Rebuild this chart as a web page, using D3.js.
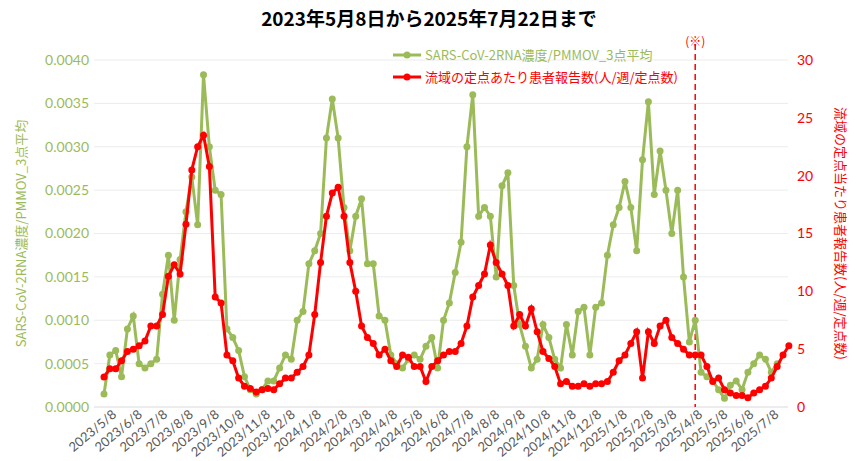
<!DOCTYPE html>
<html><head><meta charset="utf-8">
<script src="https://cdn.jsdelivr.net/npm/d3@7"></script>
<style>body{margin:0;background:#fff;font-family:"Noto Sans CJK JP","Noto Sans",sans-serif}</style>
</head><body><div id="chart"></div>
<script>
// weekly series starting 2023-05-08
const startDate = new Date(2023, 4, 8);
const rnaValues = [0.15,0.6,0.65,0.35,0.9,1.05,0.5,0.45,0.5,0.55,1.3,1.75,1.0,1.7,2.25,2.65,2.1,3.83,3.0,2.5,
  2.45,0.9,0.8,0.65,0.35,0.2,0.15,0.2,0.3,0.3,0.45,0.6,0.55,1.0,1.1,1.65,1.8,2.0,3.1,3.55,
  3.1,2.3,1.8,2.2,2.4,1.65,1.65,1.05,1.0,0.6,0.5,0.45,0.55,0.6,0.55,0.7,0.8,0.45,1.0,1.2,
  1.55,1.9,3.0,3.6,2.2,2.3,2.2,1.5,2.55,2.7,1.4,0.95,0.7,0.45,0.55,0.95,0.8,0.55,0.45,0.95,
  0.6,1.1,1.15,0.6,1.15,1.2,1.75,2.1,2.3,2.6,2.3,1.8,2.85,3.52,2.45,2.95,2.5,2.0,2.5,1.5,
  0.75,1.0,0.4,0.35,0.3,0.2,0.1,0.25,0.3,0.2,0.4,0.5,0.6,0.55,0.4,0.5].map(v => v / 1000);
const reportValues = [2.6,3.3,3.3,4,4.8,5,5.3,5.7,7,7,8,11.3,12.3,11.5,15.8,20.5,22.5,23.5,20.8,9.5,
  9,4.5,4,2.5,1.8,1.6,1.3,1.5,1.6,1.5,2,2.5,2.5,3,3.5,4.5,8,12.5,16.5,18.5,
  19,16.5,12.5,10,7,6,5.5,4.5,5,4,3.5,4.5,4.3,3.5,3.5,2.2,3.5,4,4.5,4.8,
  4.8,5.5,7,9.5,10.5,11.5,14,12.5,11.5,10.5,7,8,7,8.5,6.5,4.8,4.2,3.5,2,2.2,
  1.8,1.8,2,1.8,2,2,2.2,3,4,4.5,5.5,6.5,2.5,6.5,5.5,7,7.5,6,5.5,5,
  4.5,4.5,4.5,3.5,2.2,2.5,1.5,1.2,1,1,0.8,1.2,1.5,1.8,2.5,3.5,4.5,5.3];
const tickDates = d3.timeMonth.range(new Date(2023, 4, 1), new Date(2025, 6, 9)).map(d => new Date(d.getFullYear(), d.getMonth(), 8));
const leftTicks = [0,0.0005,0.001,0.0015,0.002,0.0025,0.003,0.0035,0.004];
const rightTicks = [0,5,10,15,20,25,30];
const dashedDate = new Date(2025, 3, 14);

const W = 858, H = 461;
const m = {l: 104, r: 80, t: 60, b: 54};
const green = "#9BBB59", red = "#FF0000";
const svg = d3.select("#chart").append("svg").attr("width", W).attr("height", H);
const x = d3.scaleTime().domain([startDate, new Date(2025, 6, 22)]).range([m.l, W - m.r]);
const yL = d3.scaleLinear().domain([0, 0.004]).range([H - m.b, m.t]);
const yR = d3.scaleLinear().domain([0, 30]).range([H - m.b, m.t]);
const rna = rnaValues.map((v, i) => ({d: d3.timeWeek.offset(startDate, i), v}));
const rep = reportValues.map((v, i) => ({d: d3.timeWeek.offset(startDate, i), v}));

svg.append("text").attr("x", W / 2).attr("y", 26).attr("text-anchor", "middle")
  .attr("font-size", 19).attr("font-weight", "bold").text("2023年5月8日から2025年7月22日まで");

// grid
svg.append("g").selectAll("line").data(leftTicks).join("line")
  .attr("x1", m.l - 10).attr("x2", W - m.r + 10).attr("y1", d => yL(d)).attr("y2", d => yL(d))
  .attr("stroke", d => d === 0 ? "#d9d9d9" : "#ececec");

// axes
const gl = svg.append("g").attr("transform", `translate(${m.l - 12},0)`)
  .call(d3.axisLeft(yL).tickValues(leftTicks).tickFormat(d3.format(".4f")).tickSize(0));
gl.select(".domain").remove();
gl.selectAll("text").attr("fill", green).attr("font-size", 14).attr("font-family", "Lato, sans-serif");
const gr = svg.append("g").attr("transform", `translate(${W - m.r + 16},0)`)
  .call(d3.axisRight(yR).tickValues(rightTicks).tickSize(0));
gr.select(".domain").remove();
gr.selectAll("text").attr("fill", red).attr("font-size", 14).attr("font-family", "Lato, sans-serif");
const gx = svg.append("g").attr("transform", `translate(0,${H - m.b})`)
  .call(d3.axisBottom(x).tickValues(tickDates).tickFormat(d => `${d.getFullYear()}/${d.getMonth() + 1}/8`).tickSize(0));
gx.select(".domain").remove();
gx.selectAll("text").attr("fill", "#595959").attr("font-size", 13).attr("font-family", "Lato, sans-serif")
  .attr("text-anchor", "end").attr("dx", 4).attr("dy", 12).attr("transform", "rotate(-40)");

svg.append("text").attr("transform", `translate(26,${(m.t + H - m.b) / 2}) rotate(-90)`)
  .attr("text-anchor", "middle").attr("fill", green).attr("font-size", 13).text("SARS-CoV-2RNA濃度/PMMOV_3点平均");
svg.append("text").attr("transform", `translate(${W - 22},${(m.t + H - m.b) / 2}) rotate(90)`)
  .attr("text-anchor", "middle").attr("fill", red).attr("font-size", 13).text("流域の定点当たり患者報告数(人/週/定点数)");

// dashed line
svg.append("line").attr("x1", x(dashedDate)).attr("x2", x(dashedDate)).attr("y1", 44).attr("y2", H - m.b)
  .attr("stroke", red).attr("stroke-width", 1.5).attr("stroke-dasharray", "6,4");
svg.append("text").attr("x", x(dashedDate)).attr("y", 46).attr("text-anchor", "middle")
  .attr("fill", red).attr("font-size", 12).text("(※)");

// series
svg.append("path").datum(rna).attr("fill", "none").attr("stroke", green).attr("stroke-width", 3)
  .attr("d", d3.line().x(d => x(d.d)).y(d => yL(d.v)));
svg.append("g").selectAll("circle").data(rna).join("circle")
  .attr("cx", d => x(d.d)).attr("cy", d => yL(d.v)).attr("r", 3.5).attr("fill", green);
svg.append("path").datum(rep).attr("fill", "none").attr("stroke", red).attr("stroke-width", 3)
  .attr("d", d3.line().x(d => x(d.d)).y(d => yR(d.v)));
svg.append("g").selectAll("circle").data(rep).join("circle")
  .attr("cx", d => x(d.d)).attr("cy", d => yR(d.v)).attr("r", 3.5).attr("fill", red);

// legend
const legend = [{t: "SARS-CoV-2RNA濃度/PMMOV_3点平均", c: green, y: 55}, {t: "流域の定点あたり患者報告数(人/週/定点数)", c: red, y: 77}];
const lg = svg.append("g").selectAll("g").data(legend).join("g");
lg.append("line").attr("x1", 393).attr("x2", 421).attr("y1", d => d.y).attr("y2", d => d.y).attr("stroke", d => d.c).attr("stroke-width", 3);
lg.append("circle").attr("cx", 407).attr("cy", d => d.y).attr("r", 3.5).attr("fill", d => d.c);
lg.append("text").attr("x", 425).attr("y", d => d.y + 5).attr("font-size", 13).attr("fill", d => d.c).text(d => d.t);
</script></body></html>
